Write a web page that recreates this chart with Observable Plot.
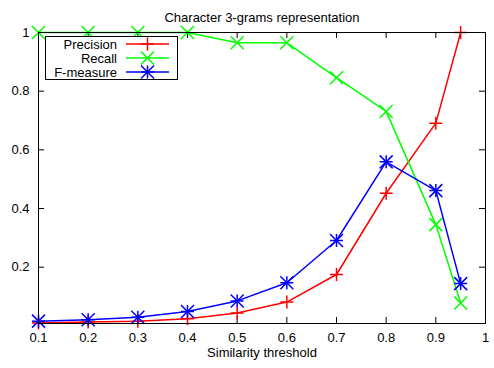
<!DOCTYPE html>
<html>
<head>
<meta charset="utf-8">
<script src="https://cdn.jsdelivr.net/npm/d3@7"></script>
<script src="https://cdn.jsdelivr.net/npm/@observablehq/plot@0.6"></script>
<style>
  html, body { margin: 0; padding: 0; background: #fff; }
</style>
</head>
<body>
<div id="chart"></div>
<script>
const thresholds = [0.1, 0.2, 0.3, 0.4, 0.5, 0.6, 0.7, 0.8, 0.9, 0.95];
const precision = [0.010, 0.013, 0.016, 0.024, 0.044, 0.081, 0.175, 0.452, 0.691, 1.0];
const recall    = [1.0, 1.0, 1.0, 1.0, 0.965, 0.965, 0.846, 0.731, 0.345, 0.078];
const fmeasure  = [0.016, 0.021, 0.029, 0.049, 0.085, 0.147, 0.291, 0.559, 0.461, 0.144];
const seriesNames = ["Precision", "Recall", "F-measure"];
const seriesColors = ["#ff0000", "#00ff00", "#0000ff"];
const xTicks = [0.1, 0.2, 0.3, 0.4, 0.5, 0.6, 0.7, 0.8, 0.9, 1];
const yTicks = [0.2, 0.4, 0.6, 0.8, 1];
const title = "Character 3-grams representation";
const xLabel = "Similarity threshold";

const W = 494, H = 368;
const mL = 38, mR = 9, mT = 32, mB = 45;
const frameW = W - mL - mR, frameH = H - mT - mB;
const tickLen = 6;
const FS = 13;

const mk = (vals) => thresholds.map((t, i) => ({x: t, y: vals[i]}));
const pData = mk(precision), rData = mk(recall), fData = mk(fmeasure);

const S = 6.5;
const plusSym = {draw(ctx) { ctx.moveTo(-S, 0); ctx.lineTo(S, 0); ctx.moveTo(0, -S); ctx.lineTo(0, S); }};
const timesSym = {draw(ctx) { ctx.moveTo(-S, -S); ctx.lineTo(S, S); ctx.moveTo(-S, S); ctx.lineTo(S, -S); }};

const font = "'Liberation Sans', Arial, Helvetica, sans-serif";

const chart = Plot.plot({
  width: W, height: H,
  marginLeft: mL, marginRight: mR, marginTop: mT, marginBottom: mB,
  style: {fontFamily: font, fontSize: FS + "px", color: "#000", background: "#fff"},
  x: {domain: [0.1, 1]},
  y: {domain: [0.008, 1]},
  marks: [
    Plot.axisX({ticks: xTicks, tickSize: 0, tickPadding: 9, tickFormat: d => String(d), label: null, fontSize: FS, fill: "#000"}),
    Plot.axisY({ticks: yTicks, tickSize: 0, tickPadding: 9, tickFormat: d => String(d), label: null, fontSize: FS, fill: "#000"}),
    // inward ticks on all sides (gnuplot style, mirrored)
    Plot.tickX(xTicks, {x: d => d, insetTop: frameH - tickLen, stroke: "#000", strokeWidth: 1}),
    Plot.tickX(xTicks, {x: d => d, insetBottom: frameH - tickLen, stroke: "#000", strokeWidth: 1}),
    Plot.tickY(yTicks, {y: d => d, insetRight: frameW - tickLen, stroke: "#000", strokeWidth: 1}),
    Plot.tickY(yTicks, {y: d => d, insetLeft: frameW - tickLen, stroke: "#000", strokeWidth: 1}),
    Plot.line(pData, {x: "x", y: "y", stroke: seriesColors[0], strokeWidth: 1.5}),
    Plot.dot(pData, {x: "x", y: "y", symbol: plusSym, r: 6, stroke: seriesColors[0], strokeWidth: 1.5}),
    Plot.line(rData, {x: "x", y: "y", stroke: seriesColors[1], strokeWidth: 1.5}),
    Plot.dot(rData, {x: "x", y: "y", symbol: timesSym, r: 6, stroke: seriesColors[1], strokeWidth: 1.5}),
    Plot.line(fData, {x: "x", y: "y", stroke: seriesColors[2], strokeWidth: 1.5}),
    Plot.dot(fData, {x: "x", y: "y", symbol: plusSym, r: 6, stroke: seriesColors[2], strokeWidth: 1.5}),
    Plot.dot(fData, {x: "x", y: "y", symbol: timesSym, r: 6, stroke: seriesColors[2], strokeWidth: 1.5}),
    Plot.frame({stroke: "#000", strokeWidth: 1}),
    Plot.text([title], {frameAnchor: "top", dy: -20, fontSize: FS, fill: "#000"}),
    Plot.text([xLabel], {frameAnchor: "bottom", dy: 33, fontSize: FS, fill: "#000"})
  ]
});

document.getElementById("chart").appendChild(chart);

// Legend box (gnuplot-style key)
const svg = d3.select(chart);
const lg = svg.append("g").attr("font-family", font).attr("font-size", FS);
lg.append("rect").attr("x", 45.5).attr("y", 36.5).attr("width", 132).attr("height", 43)
  .attr("fill", "#fff").attr("stroke", "#000").attr("stroke-width", 1);
const symPaths = [
  [`M${-S},0L${S},0M0,${-S}L0,${S}`],
  [`M${-S},${-S}L${S},${S}M${-S},${S}L${S},${-S}`],
  [`M${-S},0L${S},0M0,${-S}L0,${S}`, `M${-S},${-S}L${S},${S}M${-S},${S}L${S},${-S}`]
];
seriesNames.forEach((name, i) => {
  const yy = 44 + i * 14;
  lg.append("text").attr("x", 117).attr("y", yy).attr("dy", "0.35em")
    .attr("text-anchor", "end").attr("fill", "#000").text(name);
  lg.append("line").attr("x1", 126).attr("x2", 169).attr("y1", yy).attr("y2", yy)
    .attr("stroke", seriesColors[i]).attr("stroke-width", 1.5);
  symPaths[i].forEach(p => {
    lg.append("path").attr("d", p).attr("transform", `translate(147.5,${yy})`)
      .attr("fill", "none").attr("stroke", seriesColors[i]).attr("stroke-width", 1.5);
  });
});
</script>
</body>
</html>
